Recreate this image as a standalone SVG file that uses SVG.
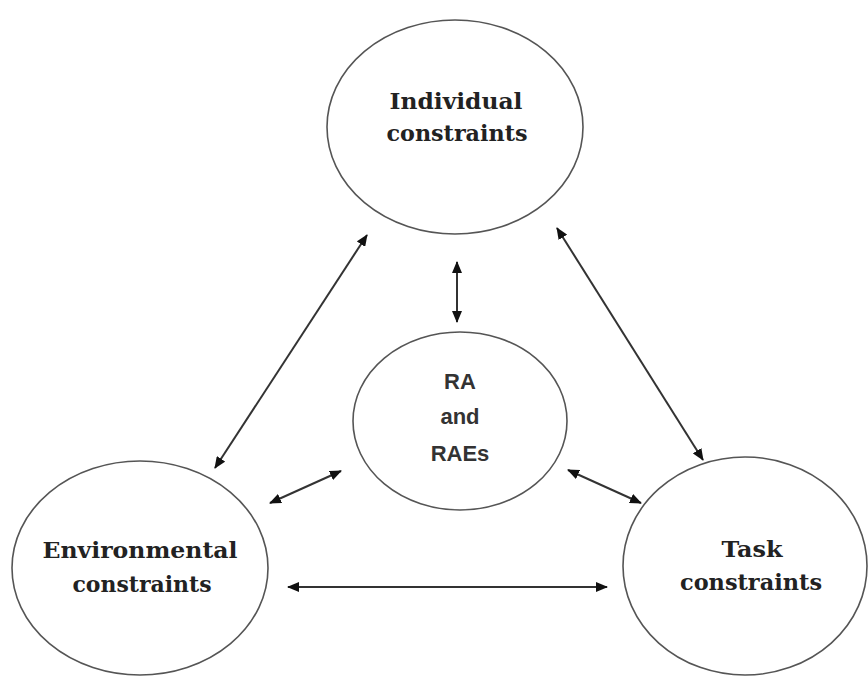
<svg xmlns="http://www.w3.org/2000/svg" width="868" height="677" viewBox="0 0 868 677">
<style>
.node ellipse{fill:#fff;stroke:#555;stroke-width:1.6}
.serif{font-family:"DejaVu Serif","Liberation Serif",serif;font-weight:bold;font-size:22px;fill:#222;text-anchor:middle}
.sans{font-family:"Liberation Sans","Open Sans",sans-serif;font-weight:bold;font-size:22px;fill:#333;text-anchor:middle}
.conn line{stroke:#333;stroke-width:2;marker-start:url(#ah);marker-end:url(#ah)}
</style>
<defs>
<marker id="ah" viewBox="0 0 12 10" refX="11" refY="5" markerWidth="12" markerHeight="10" markerUnits="userSpaceOnUse" orient="auto-start-reverse">
<path d="M0,0 L12,5 L0,10 Z" fill="#111"/>
</marker>
</defs>
<rect width="868" height="677" fill="#fff"/>
<g id="individual" class="node">
<ellipse cx="455" cy="127" rx="128" ry="107"/>
<text class="serif" x="456" y="109" textLength="133" lengthAdjust="spacingAndGlyphs">Individual</text>
<text class="serif" x="457" y="141" textLength="141" lengthAdjust="spacingAndGlyphs">constraints</text>
</g>
<g id="ra" class="node">
<ellipse cx="460" cy="421" rx="107" ry="89"/>
<text class="sans" x="460" y="389">RA</text>
<text class="sans" x="460" y="424">and</text>
<text class="sans" x="460" y="461">RAEs</text>
</g>
<g id="environmental" class="node">
<ellipse cx="140" cy="568" rx="128" ry="107"/>
<text class="serif" x="140" y="558" textLength="195" lengthAdjust="spacingAndGlyphs">Environmental</text>
<text class="serif" x="142" y="592" textLength="139" lengthAdjust="spacingAndGlyphs">constraints</text>
</g>
<g id="task" class="node">
<ellipse cx="745" cy="566" rx="122" ry="109"/>
<text class="serif" x="752" y="557" textLength="61" lengthAdjust="spacingAndGlyphs">Task</text>
<text class="serif" x="751" y="590" textLength="142" lengthAdjust="spacingAndGlyphs">constraints</text>
</g>
<g id="connectors" class="conn">
<line x1="367" y1="235" x2="215" y2="468"/>
<line x1="557" y1="228" x2="703" y2="460"/>
<line x1="457" y1="262" x2="457" y2="322"/>
<line x1="288" y1="587" x2="607" y2="587"/>
<line x1="270" y1="503" x2="341" y2="471"/>
<line x1="568" y1="470" x2="641" y2="503"/>
</g>
</svg>
